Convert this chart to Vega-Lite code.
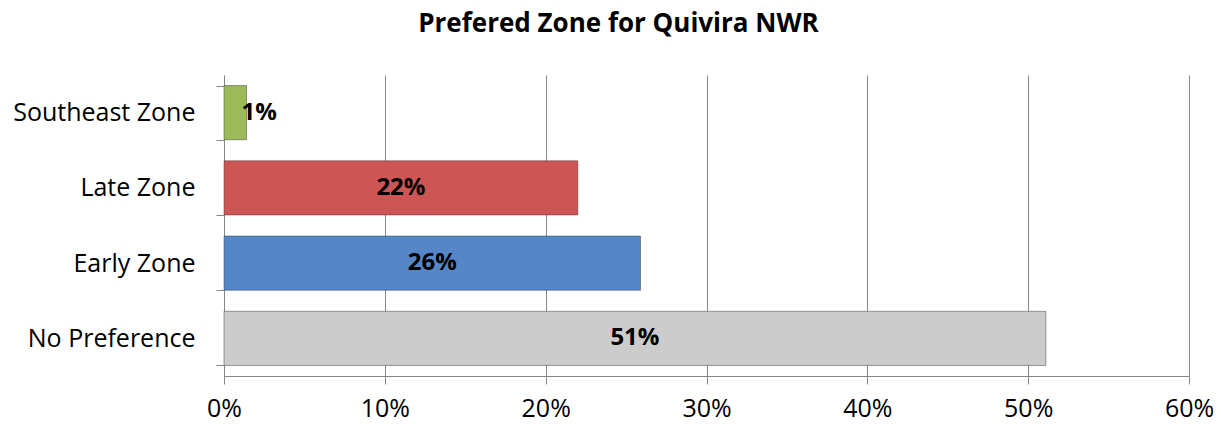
{
  "$schema": "https://vega.github.io/schema/vega-lite/v6.json",
  "width": 965,
  "height": 301,
  "autosize": "none",
  "padding": {"left": 224, "top": 75, "right": 32, "bottom": 48},
  "background": "white",
  "title": {
    "text": "Prefered Zone for Quivira NWR",
    "font": "Open Sans",
    "fontSize": 26,
    "fontWeight": "bold",
    "color": "black",
    "anchor": "middle",
    "dx": -88,
    "offset": 26
  },
  "data": {
    "values": [
      {"zone": "Southeast Zone", "value": 0.014},
      {"zone": "Late Zone", "value": 0.220},
      {"zone": "Early Zone", "value": 0.259},
      {"zone": "No Preference", "value": 0.511}
    ]
  },
  "config": {
    "view": {"stroke": null},
    "axis": {"labelFont": "Open Sans", "labelColor": "black", "labelFontSize": 25, "labelLimit": 400}
  },
  "encoding": {
    "y": {
      "field": "zone",
      "type": "nominal",
      "sort": ["Southeast Zone", "Late Zone", "Early Zone", "No Preference"],
      "scale": {"paddingInner": 0.28, "paddingOuter": 0.14},
      "axis": {
        "title": null,
        "tickBand": "extent",
        "tickSize": 8,
        "tickColor": "#868686",
        "domainColor": "#868686",
        "labelPadding": 21,
        "grid": false
      }
    }
  },
  "layer": [
    {
      "mark": {"type": "bar", "stroke": "#3a3a3a", "strokeWidth": 0.8, "strokeOpacity": 0.6},
      "encoding": {
        "x": {
          "field": "value",
          "type": "quantitative",
          "scale": {"domain": [0, 0.6]},
          "axis": {
            "title": null,
            "format": ".0%",
            "values": [0, 0.1, 0.2, 0.3, 0.4, 0.5, 0.6],
            "labelOverlap": false,
            "labelFlush": false,
            "grid": true,
            "gridColor": "#868686",
            "gridWidth": 1,
            "tickSize": 8,
            "tickColor": "#868686",
            "domainColor": "#868686",
            "labelPadding": 12
          }
        },
        "color": {
          "field": "zone",
          "type": "nominal",
          "scale": {
            "domain": ["Southeast Zone", "Late Zone", "Early Zone", "No Preference"],
            "range": ["#9BBB59", "#CD5654", "#5486C8", "#CCCCCC"]
          },
          "legend": null
        }
      }
    },
    {
      "transform": [
        {"filter": "datum.value >= 0.05"},
        {"calculate": "datum.value / 2", "as": "mid"}
      ],
      "mark": {"type": "text", "font": "Open Sans", "fontSize": 24, "fontWeight": "bold", "color": "black", "align": "center", "baseline": "middle"},
      "encoding": {
        "x": {"field": "mid", "type": "quantitative"},
        "text": {"field": "value", "type": "quantitative", "format": ".0%"}
      }
    },
    {
      "transform": [{"filter": "datum.value < 0.05"}],
      "mark": {"type": "text", "font": "Open Sans", "fontSize": 24, "fontWeight": "bold", "color": "black", "align": "left", "baseline": "middle", "dx": -5},
      "encoding": {
        "x": {"field": "value", "type": "quantitative"},
        "text": {"field": "value", "type": "quantitative", "format": ".0%"}
      }
    }
  ]
}
